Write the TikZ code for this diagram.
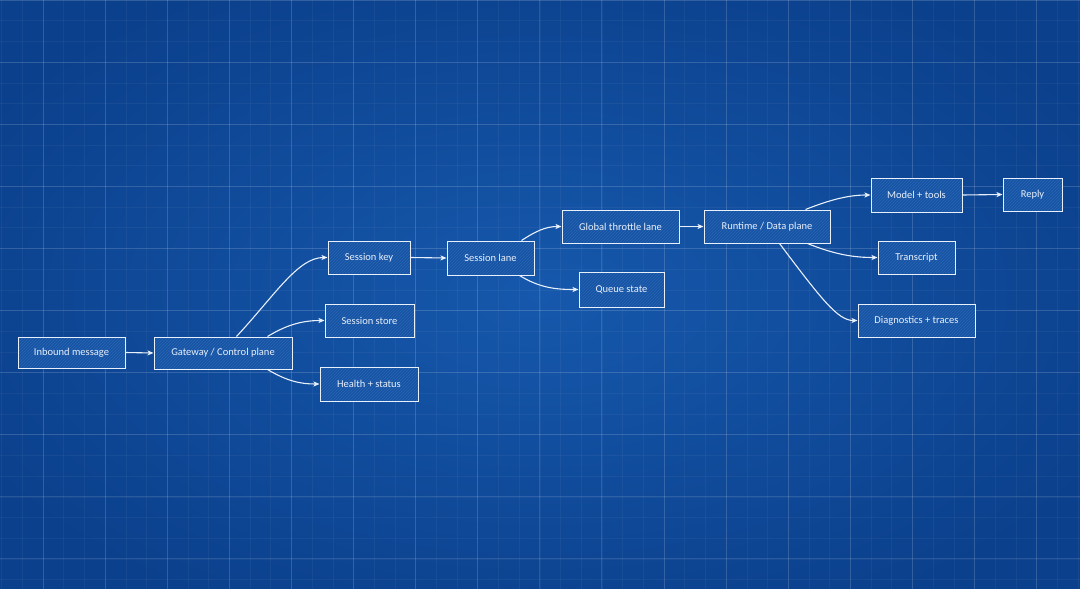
\documentclass[tikz,border=0pt]{standalone}
\usepackage{fontspec}
\setmainfont{Carlito}
\usetikzlibrary{arrows.meta,calc,patterns}
\definecolor{bgin}{RGB}{22,88,172}
\definecolor{bgout}{RGB}{11,64,140}
\definecolor{boxfill}{RGB}{22,84,166}
\definecolor{ink}{RGB}{232,240,252}
\tikzset{
  box/.style={draw=ink, line width=1pt, text=ink,
    font=\fontsize{10.5}{12}\selectfont, inner sep=0pt,
    preaction={fill=boxfill},
    pattern=north east lines, pattern color=white!10!boxfill},
  link/.style={draw=ink, line width=1.1pt,
    -{Stealth[length=6pt,width=5pt,inset=1.5pt]}},
  minorgrid/.style={draw=white, opacity=0.045, line width=0.6pt},
  majorgrid/.style={draw=white, opacity=0.12, line width=0.9pt}
}
\begin{document}
\begin{tikzpicture}[x=1pt,y=1pt]
\useasboundingbox (0,0) rectangle (1080,-589);
\shade[inner color=bgin, outer color=bgout] (-100,60) rectangle (1180,-650);
% grid
\foreach \i in {0,...,52} {
  \draw[minorgrid] ({1.6+20.7*\i},0) -- ({1.6+20.7*\i},-589);
}
\foreach \i in {0,...,29} {
  \draw[minorgrid] (0,{-20.7*\i}) -- (1080,{-20.7*\i});
}
\foreach \i in {0,...,17} {
  \draw[majorgrid] ({43+62.1*\i},0) -- ({43+62.1*\i},-589);
}
\foreach \i in {0,...,9} {
  \draw[majorgrid] (0,{-62.1*\i}) -- (1080,{-62.1*\i});
}
% nodes
\node[box, minimum width=107, minimum height=31] (in) at (71.5,-352.5) {Inbound message};
\node[box, minimum width=138, minimum height=32] (gw) at (223,-353) {Gateway / Control plane};
\node[box, minimum width=82, minimum height=33] (sk) at (369,-257.5) {Session key};
\node[box, minimum width=87, minimum height=34] (sl) at (490.5,-258) {Session lane};
\node[box, minimum width=89, minimum height=33] (ss) at (369.5,-320.5) {Session store};
\node[box, minimum width=98, minimum height=34] (hs) at (369,-384) {Health + status};
\node[box, minimum width=117, minimum height=33] (gt) at (620.5,-226.5) {Global throttle lane};
\node[box, minimum width=85, minimum height=35] (qs) at (621.5,-289.5) {Queue state};
\node[box, minimum width=126, minimum height=33] (rt) at (767,-226.5) {Runtime / Data plane};
\node[box, minimum width=91, minimum height=34] (mt) at (916.5,-195) {Model + tools};
\node[box, minimum width=59, minimum height=33] (rp) at (1032.5,-194.5) {Reply};
\node[box, minimum width=77, minimum height=33] (tr) at (916.5,-257.5) {Transcript};
\node[box, minimum width=117, minimum height=33] (dg) at (916.5,-320.5) {Diagnostics + traces};
% anchor points
\coordinate (gwA) at ($(gw.north west)+(83,0)$);
\coordinate (gwB) at ($(gw.north west)+(114,0)$);
\coordinate (gwC) at ($(gw.south west)+(114,0)$);
\coordinate (slA) at ($(sl.north west)+(75,0)$);
\coordinate (slB) at ($(sl.south west)+(73,0)$);
\coordinate (rtA) at ($(rt.north west)+(102,0)$);
\coordinate (rtB) at ($(rt.south west)+(104,0)$);
\coordinate (rtC) at ($(rt.south west)+(76,0)$);
% connectors
\draw[link] (in.east) -- (gw.west);
\draw[link] (gwA) .. controls (275,-295) and (298,-257.5) .. (sk.west);
\draw[link] (gwB) .. controls (285,-326) and (300,-320.5) .. (ss.west);
\draw[link] (gwC) .. controls (287,-381) and (300,-384) .. (hs.west);
\draw[link] (sk.east) -- (sl.west);
\draw[link] (slA) .. controls (536,-231) and (546,-226.5) .. (gt.west);
\draw[link] (slB) .. controls (540,-288) and (556,-289.5) .. (qs.west);
\draw[link] (gt.east) -- (rt.west);
\draw[link] (rtA) .. controls (832,-199) and (850,-195) .. (mt.west);
\draw[link] (rtB) .. controls (836,-255) and (855,-257.5) .. (tr.west);
\draw[link] (rtC) .. controls (822,-300) and (838,-320.5) .. (dg.west);
\draw[link] (mt.east) -- (rp.west);
\end{tikzpicture}
\end{document}
